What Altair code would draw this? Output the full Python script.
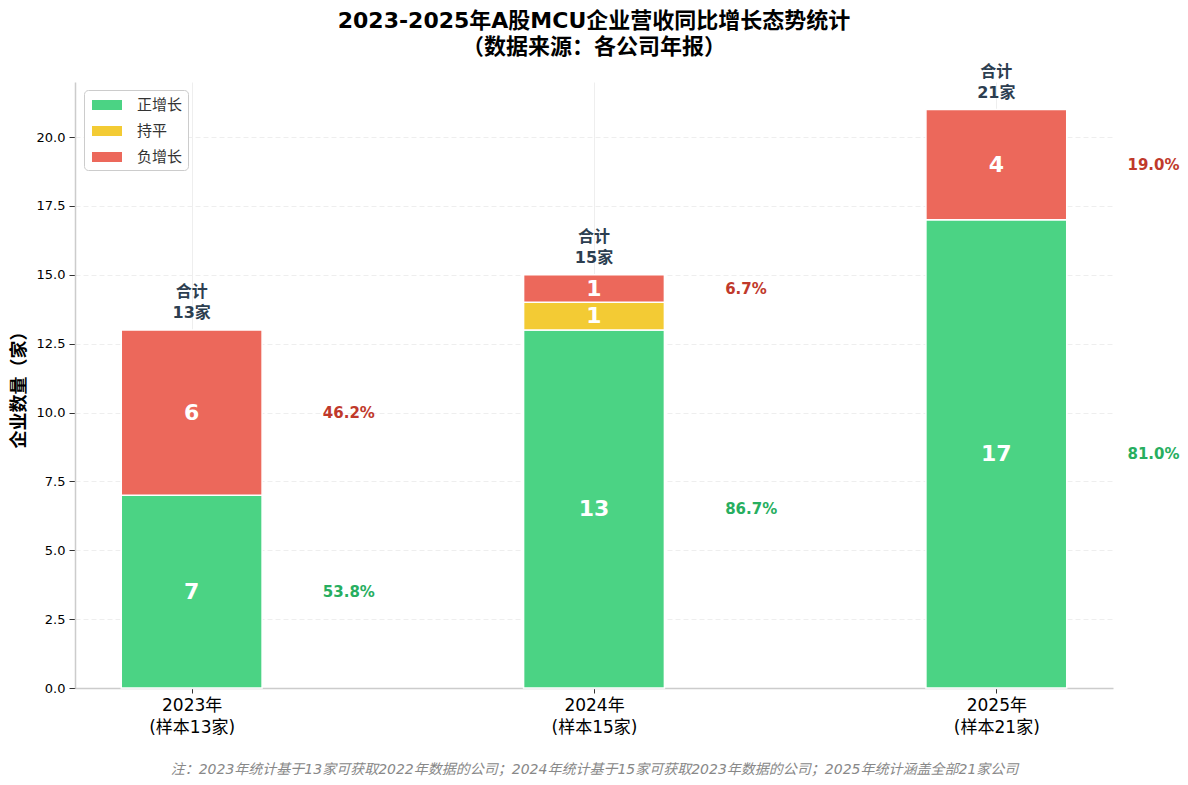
import altair as alt
import pandas as pd

years = ["2023年", "2024年", "2025年"]
samples = ["(样本13家)", "(样本15家)", "(样本21家)"]
categories = ["正增长", "持平", "负增长"]
positive = [7, 13, 17]
flat = [0, 1, 0]
negative = [6, 1, 4]
totals = [13, 15, 21]
pos_pct = ["53.8%", "86.7%", "81.0%"]
neg_pct = ["46.2%", "6.7%", "19.0%"]
colors = ["#4BD384", "#F3CB34", "#EC685B"]
pct_colors = ["#27ae60", "#c0392b"]
y_ticks = [0, 2.5, 5, 7.5, 10, 12.5, 15, 17.5, 20]

title_lines = ["2023-2025年A股MCU企业营收同比增长态势统计", "（数据来源：各公司年报）"]
footnote = "注：2023年统计基于13家可获取2022年数据的公司；2024年统计基于15家可获取2023年数据的公司；2025年统计涵盖全部21家公司"

FONT = "DejaVu Sans, Noto Sans CJK SC"

# segments
seg = []
for i in range(len(years)):
    base = 0
    for cat, vals in zip(categories, [positive, flat, negative]):
        v = vals[i]
        seg.append(dict(idx=i, cat=cat, v=v, y0=base, y1=base + v, mid=base + v / 2))
        base += v
seg_df = pd.DataFrame(seg)

pct_rows = []
for i in range(len(years)):
    pct_rows.append(dict(idx=i, mid=positive[i] / 2, txt=pos_pct[i], col=pct_colors[0]))
    pct_rows.append(dict(idx=i, mid=totals[i] - negative[i] / 2, txt=neg_pct[i], col=pct_colors[1]))
pct_df = pd.DataFrame(pct_rows)

tot_df = pd.DataFrame(dict(idx=list(range(len(years))), total=totals,
                           lab=[f"{t}家" for t in totals]))

label_arr = "[" + ",".join(f"['{y}','{s}']" for y, s in zip(years, samples)) + "]"

x_scale = alt.Scale(domain=[-0.29, 2.29], nice=False, zero=False)
y_scale = alt.Scale(domain=[0, 22], nice=False)

x_axis = alt.Axis(values=[0, 1, 2], labelExpr=f"{label_arr}[datum.value]",
                  labelFontSize=17, labelColor="#000000", labelLineHeight=22,
                  labelPadding=4, tickSize=5, tickColor="#333333",
                  domainColor="#cccccc", domainWidth=1.5,
                  grid=True, gridColor="#eeeeee", gridWidth=1,
                  title=footnote, titleFontSize=14, titleFontStyle="italic",
                  titleFontWeight="normal", titleColor="#888888", titlePadding=27)
y_axis = alt.Axis(values=y_ticks, format=".1f", labelFontSize=13, labelColor="#000000",
                  tickSize=6, labelPadding=4, tickColor="#333333",
                  domainColor="#cccccc", domainWidth=1.5,
                  grid=True, gridColor="#eeeeee", gridDash=[5, 3], gridWidth=1,
                  title="企业数量（家）", titleFontSize=18, titleFontWeight="bold",
                  titleColor="#000000", titlePadding=8)

bars = alt.Chart(seg_df).transform_filter("datum.v > 0").transform_calculate(
    xl="datum.idx - 0.175", xr="datum.idx + 0.175"
).mark_bar(stroke="white", strokeWidth=1.5).encode(
    x=alt.X("xl:Q", scale=x_scale, axis=x_axis),
    x2="xr:Q",
    y=alt.Y("y0:Q", scale=y_scale, axis=y_axis),
    y2="y1:Q",
    color=alt.Color("cat:N", scale=alt.Scale(domain=categories, range=colors),
                    legend=alt.Legend(title=None, orient="none", legendX=9, legendY=8,
                                      padding=5, symbolOffset=8,
                                      strokeColor="#cccccc", fillColor="white", cornerRadius=4,
                                      labelFontSize=15, labelColor="#333333", labelOffset=20,
                                      symbolType="M-1.5,-0.5H1.5V0.5H-1.5Z", symbolSize=400,
                                      symbolStrokeWidth=0, symbolOpacity=1, rowPadding=8)),
)

inner = alt.Chart(seg_df).transform_filter("datum.v > 0").mark_text(
    color="white", fontSize=22, fontWeight="bold", baseline="middle"
).encode(
    x=alt.X("idx:Q", scale=x_scale),
    y=alt.Y("mid:Q", scale=y_scale),
    text="v:Q",
)

pct = alt.Chart(pct_df).transform_calculate(px="datum.idx + 0.326").mark_text(
    align="left", baseline="middle", fontSize=15, fontWeight="bold"
).encode(
    x=alt.X("px:Q", scale=x_scale),
    y=alt.Y("mid:Q", scale=y_scale),
    text="txt:N",
    color=alt.Color("col:N", scale=None),
)

tot1 = alt.Chart(tot_df).mark_text(
    baseline="middle", fontSize=16, fontWeight="bold", color="#2c3e50", dy=-38
).encode(
    x=alt.X("idx:Q", scale=x_scale),
    y=alt.Y("total:Q", scale=y_scale),
    text=alt.value("合计"),
)
tot2 = alt.Chart(tot_df).mark_text(
    baseline="middle", fontSize=16, fontWeight="bold", color="#2c3e50", dy=-17
).encode(
    x=alt.X("idx:Q", scale=x_scale),
    y=alt.Y("total:Q", scale=y_scale),
    text="lab:N",
)

chart = alt.layer(bars, inner, pct, tot1, tot2).properties(
    width=1038, height=606,
    padding={"left": 67, "top": 74, "right": 67, "bottom": 89},
    autosize=alt.AutoSizeParams(type="none"),
    title=alt.TitleParams(text=title_lines, fontSize=22, fontWeight="bold", color="#000000",
                          lineHeight=26, anchor="middle", offset=5),
).configure(font=FONT).configure_view(strokeWidth=0)

chart.save("out.html", embed_options={"renderer": "svg", "actions": False})
